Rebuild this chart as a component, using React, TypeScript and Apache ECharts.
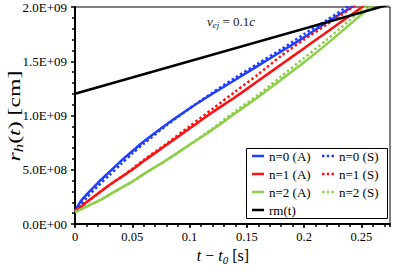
import React, { useEffect, useRef } from 'react';
import * as echarts from 'echarts';

// time grid [s]
const tGrid = [0, 0.005, 0.01, 0.02, 0.03, 0.04, 0.05, 0.06, 0.08, 0.1, 0.12, 0.14, 0.16, 0.18, 0.2, 0.22, 0.24, 0.26];
// radii [cm]
const n0A = [1.2e8, 2.1e8, 2.7e8, 3.8e8, 4.8e8, 5.8e8, 6.7e8, 7.6e8, 9.2e8, 1.065e9, 1.2e9, 1.33e9, 1.46e9, 1.59e9, 1.72e9, 1.86e9, 1.99e9, 2.12e9];
const n0S = [1.2e8, 1.8e8, 2.4e8, 3.5e8, 4.5e8, 5.5e8, 6.5e8, 7.4e8, 9.1e8, 1.065e9, 1.21e9, 1.35e9, 1.48e9, 1.61e9, 1.75e9, 1.88e9, 2.02e9, 2.15e9];
const n1A = [1.2e8, 1.6e8, 2.0e8, 2.8e8, 3.6e8, 4.3e8, 5.0e8, 5.8e8, 7.3e8, 8.8e8, 1.03e9, 1.17e9, 1.32e9, 1.47e9, 1.62e9, 1.77e9, 1.92e9, 2.07e9];
const n1S = [1.2e8, 1.6e8, 2.0e8, 2.8e8, 3.6e8, 4.3e8, 5.1e8, 5.9e8, 7.4e8, 9.0e8, 1.06e9, 1.22e9, 1.38e9, 1.55e9, 1.7e9, 1.84e9, 1.98e9, 2.12e9];
const n2A = [1.1e8, 1.35e8, 1.6e8, 2.1e8, 2.7e8, 3.3e8, 3.9e8, 4.6e8, 5.9e8, 7.3e8, 8.7e8, 1.02e9, 1.17e9, 1.33e9, 1.49e9, 1.66e9, 1.84e9, 2.02e9];
const n2S = [1.1e8, 1.35e8, 1.6e8, 2.1e8, 2.7e8, 3.3e8, 3.9e8, 4.6e8, 5.9e8, 7.3e8, 8.8e8, 1.04e9, 1.19e9, 1.36e9, 1.53e9, 1.7e9, 1.88e9, 2.06e9];
const tRm = [0, 0.275];
const rm = [1.2e9, 2.025e9];

const yTickLabels = ['0.0E+00', '5.0E+08', '1.0E+09', '1.5E+09', '2.0E+09'];

const BLUE = '#1f3fff';
const RED = '#ff1010';
const GREEN = '#8ccf48';
const SERIF = 'Liberation Serif';

const SOLID_ICON = 'path://M0,0H12V2.5H0Z';
const DOT_ICON = 'path://M0,0H2.5V2.5H0Z M4.75,0H7.25V2.5H4.75Z M9.5,0H12V2.5H9.5Z';

const zip = (xs: number[], ys: number[]) => xs.map((x, i) => [x, ys[i]]);

function line(name: string, xs: number[], ys: number[], color: string, dotted: boolean) {
  return {
    name,
    type: 'line',
    data: zip(xs, ys),
    symbol: 'none',
    smooth: 0.25,
    clip: true,
    lineStyle: { color, width: 2.5, type: dotted ? [2.5, 2.5] : 'solid' },
    itemStyle: { color },
  };
}

export default function App() {
  const ref = useRef<HTMLDivElement>(null);
  useEffect(() => {
    document.body.style.margin = '0';
    const chart = echarts.init(ref.current!, null, { renderer: 'svg' });
    const legendText = { fontFamily: SERIF, fontSize: 13, lineHeight: 14, color: '#000' };
    const mk = (size: number, lh: number, fill: string, sub: number, subLh: number) => ({
      n: { fontFamily: SERIF, fontSize: size, lineHeight: lh, fill },
      i: { fontFamily: SERIF, fontSize: size, lineHeight: lh, fontStyle: 'italic', fill },
      s: { fontFamily: SERIF, fontSize: sub, lineHeight: subLh, fontStyle: 'italic', verticalAlign: 'bottom', fill },
    });
    const xRich = mk(16, 20, '#000', 11, 12);
    const yRich = mk(17, 22, '#000', 12, 13);
    const vRich = mk(13, 16, '#222', 9, 9);
    const legendItem = (name: string, dotted: boolean) => ({ name, icon: dotted ? DOT_ICON : SOLID_ICON });
    chart.setOption({
      animation: false,
      grid: { left: 75, right: 17, top: 7, bottom: 55, show: true, borderColor: '#000', borderWidth: 1 },
      xAxis: [
        {
          type: 'value', min: 0, max: 0.275, interval: 0.05, position: 'bottom',
          axisLine: { show: true, onZero: false, lineStyle: { color: '#000', width: 2 } },
          axisTick: { show: true, inside: false, length: 4, lineStyle: { color: '#000', width: 1.5 } },
          axisLabel: { showMaxLabel: false, color: '#000', fontFamily: SERIF, fontSize: 12.5, margin: 6 },
          splitLine: { show: false },
        },
        {
          type: 'value', min: 0, max: 0.275, interval: 0.01, position: 'bottom', gridIndex: 0,
          axisLine: { show: false, onZero: false },
          axisTick: { show: true, inside: false, length: 3, lineStyle: { color: '#000', width: 1.5 } },
          axisLabel: { show: false },
          splitLine: { show: false },
        },
      ],
      yAxis: {
        type: 'value', min: 0, max: 2e9, interval: 5e8,
        axisLine: { show: true, onZero: false, lineStyle: { color: '#000', width: 2 } },
        axisTick: { show: true, inside: false, length: 4, lineStyle: { color: '#000', width: 1.5 } },
        minorTick: { show: true, splitNumber: 5, length: 3, lineStyle: { color: '#000', width: 1.5 } },
        axisLabel: {
          color: '#000', fontFamily: SERIF, fontSize: 13, margin: 8,
          formatter: (v: number) => yTickLabels[Math.round(v / 5e8)] ?? '',
        },
        splitLine: { show: false },
      },
      legend: [
        {
          data: [legendItem('n=0 (A)', false), legendItem('n=1 (A)', false), legendItem('n=2 (A)', false), legendItem('rm(t)', false)],
          orient: 'vertical', left: 252, top: 149,
          itemWidth: 12, itemHeight: 2.5, itemGap: 4, padding: 0, selectedMode: false, textStyle: legendText, z: 10,
        },
        {
          data: [legendItem('n=0 (S)', true), legendItem('n=1 (S)', true), legendItem('n=2 (S)', true)],
          orient: 'vertical', left: 322, top: 149,
          itemWidth: 12, itemHeight: 2.5, itemGap: 4, padding: 0, selectedMode: false, textStyle: legendText, z: 10,
        },
      ],
      graphic: [
        { type: 'rect', z: 8, shape: { x: 246.5, y: 148.5, width: 141, height: 70 }, style: { fill: '#fff', stroke: '#000', lineWidth: 1 } },
        {
          type: 'text', x: 231, y: 21, z: 8,
          style: { text: '{i|v}{s|ej}{n| = 0.1}{i|c}', rich: vRich, align: 'center', verticalAlign: 'middle' },
        },
        {
          type: 'text', x: 223, y: 255, z: 8,
          style: { text: '{i|t}{n| − }{i|t}{s|0}{n| [s]}', rich: xRich, align: 'center', verticalAlign: 'middle' },
        },
        {
          type: 'text', x: 14, y: 116, z: 8, rotation: Math.PI / 2, scaleX: 1.4,
          style: { text: '{i|r}{s|h}{n|(}{i|t}{n|) [cm]}', rich: yRich, align: 'center', verticalAlign: 'middle' },
        },
      ],
      series: [
        line('n=0 (A)', tGrid, n0A, BLUE, false),
        line('n=1 (A)', tGrid, n1A, RED, false),
        line('n=2 (A)', tGrid, n2A, GREEN, false),
        line('n=0 (S)', tGrid, n0S, BLUE, true),
        line('n=1 (S)', tGrid, n1S, RED, true),
        line('n=2 (S)', tGrid, n2S, GREEN, true),
        { ...line('rm(t)', tRm, rm, '#000', false), smooth: false },
      ],
    });
    return () => chart.dispose();
  }, []);
  return <div ref={ref} style={{ position: 'absolute', left: 0, top: 0, width: 407, height: 279 }} />;
}
